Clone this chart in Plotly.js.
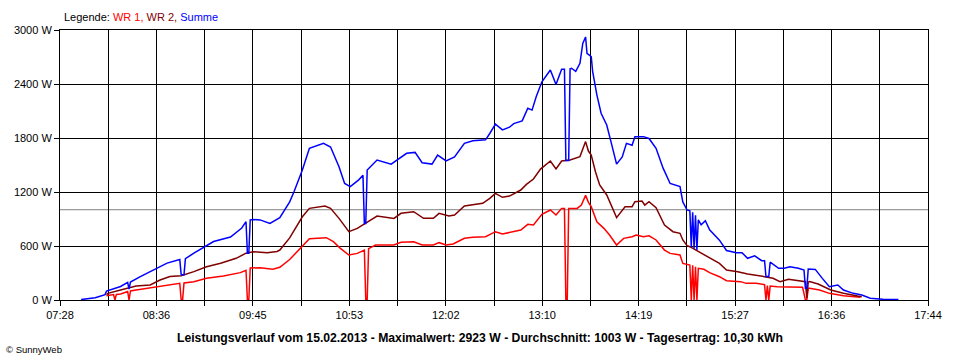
<!DOCTYPE html>
<html><head><meta charset="utf-8">
<script src="https://cdn.plot.ly/plotly-3.0.1.min.js"></script>
<style>html,body{margin:0;padding:0;background:#fff;}#chart{width:960px;height:360px;}</style>
</head><body><div id="chart"></div>
<script>
// ---- data ----
const xTickLabels = ['07:28','08:36','09:45','10:53','12:02','13:10','14:19','15:27','16:36','17:44'];
const yTickValues = [0, 600, 1200, 1800, 2400, 3000];
const averageW = 1003;

const summeZeit = ['07:43','07:53','08:00','08:01','08:11','08:16','08:17','08:18','08:25','08:37','08:44','08:53','08:54','08:56','08:57','09:03','09:11','09:17','09:29','09:37','09:40','09:41','09:42','09:43','09:45','09:50','09:57','10:04','10:11','10:14','10:20','10:25','10:35','10:40','10:46','10:50','10:54','11:00','11:03','11:04','11:05','11:06','11:13','11:23','11:34','11:40','11:45','11:52','11:56','12:02','12:08','12:15','12:21','12:30','12:33','12:37','12:42','12:47','12:50','12:56','13:00','13:03','13:06','13:10','13:16','13:20','13:24','13:26','13:27','13:29','13:30','13:31','13:34','13:37','13:39','13:41','13:42','13:45','13:46','13:49','13:52','13:56','13:59','14:03','14:07','14:10','14:14','14:16','14:22','14:26','14:31','14:36','14:41','14:48','14:50','14:53','14:55','14:56','14:57','14:58','14:59','15:00','15:01','15:03','15:06','15:09','15:16','15:21','15:28','15:32','15:36','15:41','15:46','15:48','15:49','15:51','15:52','15:53','15:58','16:02','16:06','16:12','16:16','16:17','16:18','16:19','16:24','16:29','16:34','16:40','16:44','16:51','16:57','17:03','17:12','17:23'];
const summeW    = [5,25,60,100,150,195,120,200,260,350,410,450,280,280,460,520,590,650,700,800,870,520,520,890,895,890,850,915,1090,1200,1445,1685,1740,1700,1480,1295,1260,1335,1385,850,850,1445,1555,1510,1630,1640,1525,1510,1610,1545,1590,1740,1770,1780,1850,1955,1890,1920,1960,1990,2130,2110,2260,2425,2555,2395,2565,2565,1550,1550,2570,2575,2540,2630,2850,2923,2740,2705,2540,2280,2075,1945,1760,1510,1590,1740,1720,1815,1815,1795,1685,1465,1295,1260,1090,1000,990,590,975,570,940,555,890,835,880,780,665,550,525,525,463,490,437,437,260,260,420,408,352,352,370,352,333,130,130,345,340,240,148,167,111,74,55,19,8,5];

const wr2Zeit = ['08:01','08:02','08:11','08:22','08:32','08:39','08:46','08:54','09:03','09:12','09:22','09:33','09:40','09:45','09:55','10:02','10:04','10:11','10:20','10:25','10:36','10:40','10:46','10:53','10:59','11:04','11:13','11:25','11:30','11:39','11:46','11:53','11:57','12:04','12:08','12:15','12:21','12:28','12:33','12:37','12:42','12:47','12:55','12:59','13:04','13:09','13:16','13:20','13:24','13:30','13:37','13:41','13:43','13:45','13:48','13:51','13:56','13:59','14:03','14:09','14:14','14:16','14:21','14:23','14:26','14:31','14:37','14:43','14:48','14:50','14:53','14:55','15:00','15:05','15:09','15:16','15:21','15:29','15:36','15:42','15:48','15:54','15:59','16:05','16:11','16:17','16:18','16:19','16:20','16:26','16:35','16:44','16:54','16:57'];
const wr2W    = [60,74,111,155,167,222,260,270,315,370,408,463,520,537,526,540,555,690,925,1018,1044,1018,907,759,796,844,933,907,963,981,907,907,963,933,944,1044,1055,1074,1130,1185,1141,1155,1222,1285,1344,1455,1544,1455,1544,1555,1593,1760,1655,1611,1425,1278,1167,1055,915,1037,1037,1092,1100,1055,1092,1026,833,759,741,667,603,592,548,511,474,407,333,315,289,278,259,241,204,230,215,204,20,200,204,178,111,74,44,37];

const wr1Zeit = ['08:01','08:06','08:07','08:08','08:11','08:16','08:17','08:18','08:22','08:34','08:44','08:53','08:54','08:55','08:56','09:03','09:12','09:24','09:36','09:40','09:41','09:42','09:43','09:50','09:59','10:04','10:11','10:20','10:25','10:37','10:42','10:47','10:53','10:59','11:04','11:05','11:06','11:07','11:12','11:25','11:30','11:39','11:45','11:53','11:57','12:02','12:07','12:15','12:21','12:30','12:37','12:42','12:47','12:55','13:00','13:04','13:10','13:16','13:20','13:24','13:26','13:27','13:28','13:29','13:35','13:38','13:41','13:43','13:45','13:49','13:54','13:58','14:03','14:08','14:14','14:17','14:22','14:26','14:31','14:37','14:41','14:48','14:50','14:55','14:56','14:57','14:58','14:59','15:00','15:01','15:05','15:09','15:16','15:21','15:31','15:35','15:42','15:48','15:49','15:50','15:51','15:52','15:57','16:06','16:15','16:17','16:18','16:19','16:20','16:27','16:34','16:44','16:54','16:56'];
const wr1W    = [48,60,0,62,67,95,0,100,111,141,167,185,0,0,190,204,241,267,304,330,0,0,355,359,341,363,450,592,681,692,648,574,500,518,555,0,0,570,611,611,641,648,611,611,637,611,622,685,696,703,759,733,748,778,841,833,952,1000,944,1018,1018,0,0,1018,1018,1055,1163,1085,1037,870,796,722,611,685,703,722,703,714,667,555,518,500,407,389,0,385,0,370,0,352,341,304,259,215,204,185,185,170,0,160,0,155,148,148,141,0,0,130,130,111,74,48,37,30];

// ---- helpers ----
function toMin(s){ const p = s.split(':'); return (+p[0])*60 + (+p[1]); }
const tStart = toMin(xTickLabels[0]);
const tEnd = toMin(xTickLabels[xTickLabels.length-1]);
const nGrid = (xTickLabels.length-1)*2;
const tickVals = [], tickText = [];
for (let i=0;i<=nGrid;i++){
  tickVals.push(tStart + i*(tEnd-tStart)/nGrid);
  tickText.push(i%2===0 ? xTickLabels[i/2] : '');
}

const F = 'Liberation Sans, Arial, sans-serif';
const traces = [
  {x: wr1Zeit.map(toMin), y: wr1W, mode:'lines', line:{color:'#ff0000', width:1.5}, name:'WR 1'},
  {x: wr2Zeit.map(toMin), y: wr2W, mode:'lines', line:{color:'#800000', width:1.5}, name:'WR 2'},
  {x: summeZeit.map(toMin), y: summeW, mode:'lines', line:{color:'#0000ff', width:1.5}, name:'Summe'}
];

const layout = {
  width:960, height:360,
  margin:{l:60, r:32, t:30, b:60},
  paper_bgcolor:'#fff', plot_bgcolor:'#fff',
  showlegend:false, hovermode:false,
  font:{family:F, size:11, color:'#000'},
  xaxis:{range:[tStart,tEnd], tickmode:'array', tickvals:tickVals, ticktext:tickText,
    showgrid:true, gridcolor:'#000', gridwidth:1, zeroline:false,
    showline:true, linecolor:'#000', linewidth:1, mirror:true,
    ticks:'outside', ticklen:5, tickcolor:'#000', tickfont:{family:F, size:11, color:'#000'}},
  yaxis:{range:[0,3000], tickmode:'array', tickvals:yTickValues, ticktext:yTickValues.map(v=>v+' W'),
    showgrid:true, gridcolor:'#000', gridwidth:1, zeroline:false,
    showline:true, linecolor:'#000', linewidth:1, mirror:true,
    ticks:'outside', ticklen:5, tickcolor:'#000', tickfont:{family:F, size:11, color:'#000'}},
  shapes:[{type:'line', xref:'paper', x0:0, x1:1, yref:'y', y0:averageW, y1:averageW,
    line:{color:'#808080', width:1}, layer:'below'}],
  annotations:[
    {xref:'paper', yref:'paper', x:0.002, y:1.048, xanchor:'left', yanchor:'middle', showarrow:false,
     text:'Legende: <span style="color:#ff0000">WR 1, </span><span style="color:#800000">WR 2, </span><span style="color:#0000ff">Summe</span>',
     font:{family:F, size:11, color:'#000'}},
    {xref:'paper', yref:'paper', x:0.4839, y:-0.1407, xanchor:'center', yanchor:'middle', showarrow:false,
     text:'<b>Leistungsverlauf vom 15.02.2013 - Maximalwert: 2923 W - Durchschnitt: 1003 W - Tagesertrag: 10,30 kWh</b>',
     font:{family:F, size:12.2, color:'#000'}},
    {xref:'paper', yref:'paper', x:-0.0645, y:-0.1815, xanchor:'left', yanchor:'middle', showarrow:false,
     text:'© SunnyWeb', font:{family:F, size:9.5, color:'#000'}}
  ]
};
Plotly.newPlot('chart', traces, layout, {displayModeBar:false, staticPlot:true});
</script></body></html>
